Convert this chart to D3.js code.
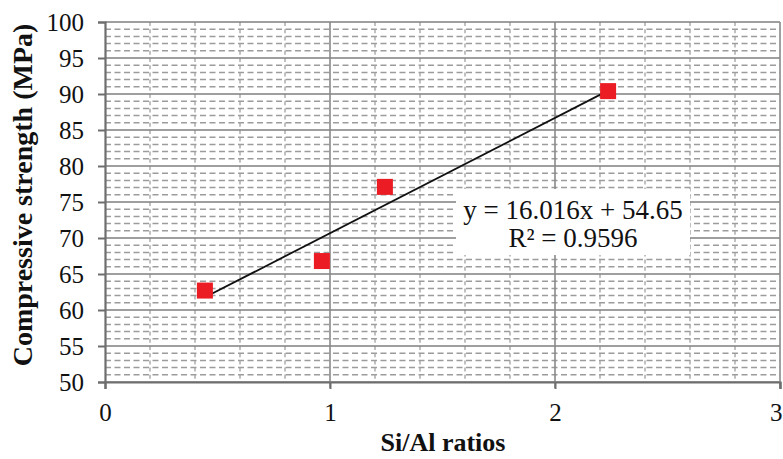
<!DOCTYPE html>
<html><head><meta charset="utf-8">
<script src="https://cdn.jsdelivr.net/npm/d3@7"></script>
<style>body{margin:0;background:#fff;}</style>
</head><body>
<svg id="c" width="783" height="459"></svg>
<script>
const siAl = [0.444, 0.964, 1.244, 2.236];
const strength = [62.7, 66.8, 77.1, 90.4];
const xTicks = [0, 1, 2, 3];
const yTicks = [50, 55, 60, 65, 70, 75, 80, 85, 90, 95, 100];
const slope = 16.016, intercept = 54.65;
const eqLabel = "y = 16.016x + 54.65";
const r2Label = "R² = 0.9596";
const xTitle = "Si/Al ratios";
const yTitle = "Compressive strength (MPa)";

const FONT = "'Liberation Serif', 'Times New Roman', serif";
const svg = d3.select("#c");
const m = {l:105, r:3, t:22, b:77};
const W = 783, H = 459;
const x = d3.scaleLinear().domain([0,3]).range([m.l, W-m.r]);
const y = d3.scaleLinear().domain([50,100]).range([H-m.b, m.t]);
const g = svg.append("g");

// minor horizontal dashed
const minorY = d3.range(51, 100, 1).filter(v => v % 5 !== 0);
g.selectAll(".mh").data(minorY).join("line")
  .attr("x1", x(0)).attr("x2", x(3)).attr("y1", d=>y(d)).attr("y2", d=>y(d))
  .attr("stroke", "#9c9c9c").attr("stroke-width", 1.5).attr("stroke-dasharray", "6,3.5");
// minor vertical dashed
const minorX = d3.range(1, 15).map(i => i*0.2).filter(v => Math.abs(v - Math.round(v)) > 1e-6);
g.selectAll(".mv").data(minorX).join("line")
  .attr("x1", d=>x(d)).attr("x2", d=>x(d)).attr("y1", y(100)).attr("y2", y(50))
  .attr("stroke", "#a0a0a0").attr("stroke-width", 1.3).attr("stroke-dasharray", "4,3.2");
// major grid
g.selectAll(".Mh").data(yTicks).join("line")
  .attr("x1", x(0)).attr("x2", x(3)).attr("y1", d=>y(d)).attr("y2", d=>y(d))
  .attr("stroke", "#7f7f7f").attr("stroke-width", 1.7);
g.selectAll(".Mv").data(xTicks.slice(1)).join("line")
  .attr("x1", d=>x(d)).attr("x2", d=>x(d)).attr("y1", y(100)).attr("y2", y(50)+6)
  .attr("stroke", "#8a8a8a").attr("stroke-width", 1.6);

// axes
const yAx = g.append("g").attr("transform", `translate(${x(0)},0)`)
  .call(d3.axisLeft(y).tickValues(yTicks).tickSize(7).tickPadding(14));
const xAx = g.append("g").attr("transform", `translate(0,${y(50)})`)
  .call(d3.axisBottom(x).tickValues(xTicks).tickSize(7).tickPadding(14).tickFormat(d3.format("d")));
[yAx, xAx].forEach(a => {
  a.attr("font-family", null).attr("font-size", null);
  a.select(".domain").attr("stroke", "#6e6e6e").attr("stroke-width", 2.2);
  a.selectAll(".tick line").attr("stroke", "#6e6e6e").attr("stroke-width", 2);
  a.selectAll("text").style("font-family", FONT).style("font-size", "25px").attr("fill", "#111");
});
xAx.selectAll(".tick:last-child text").attr("text-anchor","end").attr("dx", 2);

// trendline
const x0 = d3.min(siAl), x1 = d3.max(siAl);
g.append("line").attr("x1", x(x0)).attr("x2", x(x1))
  .attr("y1", y(slope*x0+intercept)).attr("y2", y(slope*x1+intercept))
  .attr("stroke", "#111").attr("stroke-width", 1.8);

// points
const s = 16;
g.selectAll(".pt").data(siAl).join("rect")
  .attr("x", d=>x(d)-s/2).attr("y", (d,i)=>y(strength[i])-s/2)
  .attr("width", s).attr("height", s).attr("fill", "#ec1c24");

// equation label
const lx = 573;
g.append("rect").attr("x", 456).attr("y", 189).attr("width", 234).attr("height", 66).attr("fill", "#fff");
g.append("text").attr("x", lx).attr("y", 219).attr("text-anchor","middle")
  .style("font-family", FONT).style("font-size", "27px").attr("fill","#111").text(eqLabel);
g.append("text").attr("x", lx).attr("y", 247).attr("text-anchor","middle")
  .style("font-family", FONT).style("font-size", "27px").attr("fill","#111").text(r2Label);

// titles
svg.append("text").attr("x", 443).attr("y", 451).attr("text-anchor","middle")
  .style("font-family", FONT).style("font-size", "26px").style("font-weight","bold")
  .attr("fill","#111").text(xTitle);
svg.append("text").attr("transform", `translate(32,195) rotate(-90)`)
  .attr("text-anchor","middle").style("font-family", FONT).style("font-size", "28px")
  .style("font-weight","bold").attr("fill","#111").text(yTitle);
</script>
</body></html>
